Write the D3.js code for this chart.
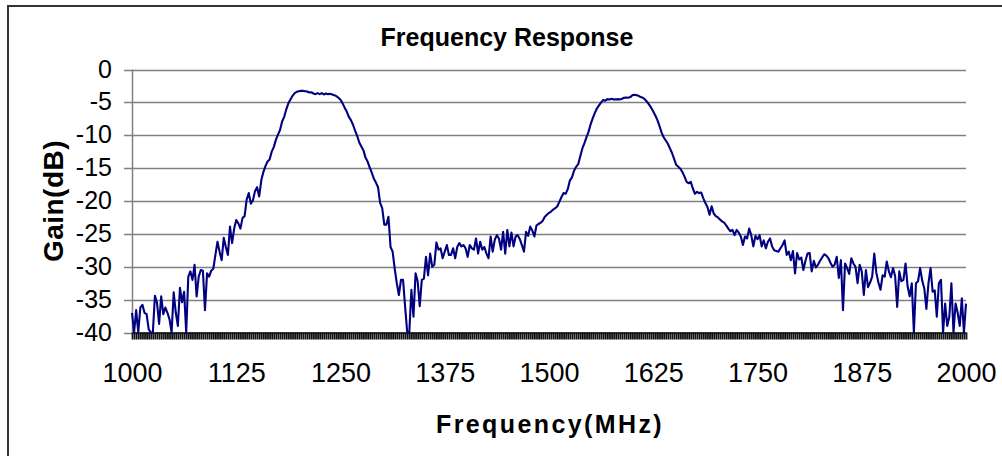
<!DOCTYPE html>
<html>
<head>
<meta charset="utf-8">
<script src="https://cdn.jsdelivr.net/npm/d3@7"></script>
<style>
  body { margin: 0; background: #fff; }
  svg { display: block; font-family: "Liberation Sans", Arial, sans-serif; }
</style>
</head>
<body>
<svg id="chart" width="1002" height="456"></svg>
<script>
// sweep: 1000 MHz to 2000 MHz, one reading every 2.5 MHz
var freqStart = 1000, freqStep = 2.5;

// gain (dB), 10 readings per row (25 MHz)
var gain = [
  -37, -40, -36.6, -40, -36.2, -35.8, -37, -37.2, -39.5, -40,
  -40, -34.4, -35.5, -38.7, -34.5, -37.2, -36.2, -37, -38, -40,
  -33.9, -37, -39, -33.2, -35.4, -33.8, -40, -31.5, -30.7, -32,
  -29.7, -34.5, -31.5, -30.5, -30.6, -36.6, -31, -31.5, -30.6, -30.3,
  -28.2, -26.2, -27.7, -29, -25.6, -27, -28.2, -23.9, -26.4, -24.2,
  -22.9, -23.4, -24.2, -22.6, -22.3, -19.8, -18.8, -20.4, -19.9, -18.5,
  -17.9, -19.3, -16.9, -15.6, -14.7, -14.0, -13.7, -12.5, -11.8, -10.7,
  -9.9, -9.2, -7.9, -7.2, -6.05, -5.15, -4.55, -4.0, -3.6, -3.4,
  -3.3, -3.25, -3.25, -3.3, -3.35, -3.5, -3.45, -3.65, -3.75, -3.6,
  -3.75, -3.6, -3.8, -3.65, -3.75, -3.7, -3.8, -3.9, -4.05, -4.3,
  -4.6, -5.15, -5.8, -6.4, -7.2, -7.7, -8.4, -9.3, -10.1, -11.1,
  -11.7, -12.3, -13.4, -14.0, -14.9, -15.7, -16.6, -17.2, -17.9, -20.3,
  -21.1, -23.6, -23.6, -22.4, -27, -27.7, -30.3, -32.5, -34.3, -32,
  -32, -36.1, -40, -40, -33.5, -37.6, -31, -32.2, -36, -32,
  -31.8, -28.5, -31.3, -28, -30, -29.7, -26.3, -27.4, -27.2, -28.7,
  -27.7, -26.7, -28.2, -28.2, -27.2, -28.7, -27, -26.4, -26.9, -26.7,
  -27.2, -28.5, -26.7, -27.2, -27.4, -25.7, -28, -26.2, -27.4, -27,
  -28, -28.7, -25.4, -27.7, -25.9, -25.2, -25.7, -27.4, -24.7, -28,
  -24.4, -26.9, -24.8, -26.9, -25.4, -25.2, -25.8, -26.7, -27.7, -24.7,
  -25.3, -23.9, -24.5, -25.4, -23.7, -23.5, -23.3, -23, -22.4, -22.1,
  -21.8, -21.6, -21.3, -21.1, -20.8, -20.1, -19.4, -18.8, -18.9, -18.2,
  -16.9, -16.4, -15.4, -14.8, -14.4, -13.2, -12, -11.2, -10.3, -9.45,
  -8.3, -7.4, -6.6, -5.9, -5.45, -5.0, -4.64, -4.74, -4.5, -4.55,
  -4.45, -4.55, -4.55, -4.5, -4.55, -4.45, -4.3, -4.25, -4.3, -4.2,
  -3.9, -3.85, -3.9, -4.0, -4.2, -4.3, -4.55, -4.9, -5.35, -5.8,
  -6.4, -7.0, -7.7, -8.6, -9.6, -10.3, -10.8, -11.3, -12, -12.7,
  -13.6, -14.5, -14.8, -15.1, -15.6, -16.3, -17.1, -17.3, -17.1, -18.1,
  -18.9, -18.6, -18.8, -18.7, -19.6, -20.3, -20.9, -22.1, -20.8, -21.9,
  -22.3, -22.5, -22.8, -23.1, -23.3, -23.7, -24.2, -24.6, -24.4, -25.2,
  -24.4, -24.8, -25.4, -26.7, -25.4, -25.7, -24.2, -25.2, -26.9, -25.3,
  -25.8, -25.2, -26.9, -26, -27.2, -26.2, -25.7, -26.9, -27.5, -27.6,
  -27.7, -27.2, -26.7, -26, -28.2, -27.7, -29, -27.6, -31, -27.9,
  -28.9, -28.6, -30.5, -29.1, -28, -27.9, -30.7, -29.1, -30.1, -29.7,
  -29.1, -28.6, -28.1, -28.3, -28.7, -29.4, -30, -29.7, -28.5, -31.7,
  -29, -36.6, -29.5, -30.2, -31.1, -28.7, -29.5, -30, -32.5, -29.7,
  -30.7, -34.3, -30.5, -33.1, -32.4, -31.5, -28, -30.9, -32.4, -33.5,
  -31.3, -31.5, -29.2, -30.7, -31.6, -30.2, -31.4, -36.1, -30.7, -32.2,
  -32, -29.5, -33, -34.5, -32.5, -40, -32.5, -32.2, -30.2, -32.1,
  -33.3, -36.4, -32.5, -30.2, -33.8, -33.6, -37.6, -32.5, -32, -40,
  -35.6, -39, -37.6, -32.5, -40, -35.6, -37, -39, -34.8, -40,
  -35.6
];

var xLabels = [1000, 1125, 1250, 1375, 1500, 1625, 1750, 1875, 2000];
var yTicks = [0, -5, -10, -15, -20, -25, -30, -35, -40];

var freqs = gain.map(function(g, i) { return freqStart + i * freqStep; });

var plotL = 132, plotR = 966, plotT = 69.5, plotB = 332.5;

var svg = d3.select('#chart');

var x = d3.scaleLinear().domain([1000, 2000]).range([plotL, plotR]);
var y = d3.scaleLinear().domain([-40, 0]).range([plotB, plotT]);

// outer frame
svg.append('rect')
    .attr('x', 8).attr('y', 6)
    .attr('width', 1010).attr('height', 470)
    .attr('fill', 'none')
    .attr('stroke', '#333')
    .attr('stroke-width', 2);

// gridlines, with the little tick stubs left of the axis
svg.append('g').selectAll('line')
    .data(yTicks)
    .enter().append('line')
    .attr('x1', plotL - 8).attr('x2', plotR)
    .attr('y1', function(d) { return Math.round(y(d)) + 0.5; })
    .attr('y2', function(d) { return Math.round(y(d)) + 0.5; })
    .attr('stroke', '#808080')
    .attr('stroke-width', 1.5);

// y axis line
svg.append('line')
    .attr('x1', plotL + 0.5).attr('x2', plotL + 0.5)
    .attr('y1', plotT).attr('y2', plotB)
    .attr('stroke', '#808080')
    .attr('stroke-width', 1.5);

// y labels
var yAxis = svg.append('g')
    .attr('transform', 'translate(' + (plotL - 20) + ',0)')
    .call(d3.axisLeft(y).tickValues(yTicks).tickSize(0).tickPadding(0)
        .tickFormat(function(d) { return String(d); }));
yAxis.select('.domain').remove();
yAxis.selectAll('text')
    .attr('font-family', '"Liberation Sans", Arial, sans-serif')
    .attr('font-size', 25)
    .attr('fill', '#000')
    .attr('dy', '0.3em');

// category ticks, one per reading
var tickAxis = svg.append('g')
    .attr('transform', 'translate(0,' + plotB + ')')
    .call(d3.axisBottom(x).tickValues(freqs).tickSize(7).tickSizeOuter(0).tickFormat(''));
tickAxis.select('.domain').attr('stroke', '#222').attr('stroke-width', 1.5);
tickAxis.selectAll('.tick line').attr('stroke', '#111').attr('stroke-width', 1.8);

// x labels
var xAxis = svg.append('g')
    .attr('transform', 'translate(0,' + plotB + ')')
    .call(d3.axisBottom(x).tickValues(xLabels).tickSize(0).tickPadding(0)
        .tickFormat(function(d) { return String(d); }));
xAxis.select('.domain').remove();
xAxis.selectAll('text')
    .attr('font-family', '"Liberation Sans", Arial, sans-serif')
    .attr('font-size', 27)
    .attr('fill', '#000')
    .attr('dy', 0)
    .attr('y', 49.5);

// response trace
var line = d3.line()
    .x(function(d, i) { return x(freqs[i]); })
    .y(function(d) { return y(d); });

svg.append('path')
    .datum(gain)
    .attr('d', line)
    .attr('fill', 'none')
    .attr('stroke', '#000080')
    .attr('stroke-width', 2.1)
    .attr('stroke-linejoin', 'round');

// titles
svg.append('text')
    .attr('x', 507).attr('y', 46)
    .attr('text-anchor', 'middle')
    .attr('font-size', 25)
    .attr('font-weight', 'bold')
    .text('Frequency Response');

svg.append('text')
    .attr('x', 550).attr('y', 433)
    .attr('text-anchor', 'middle')
    .attr('font-size', 25)
    .attr('font-weight', 'bold')
    .attr('letter-spacing', 2.4)
    .text('Frequency(MHz)');

svg.append('text')
    .attr('transform', 'translate(63,201) rotate(-90)')
    .attr('text-anchor', 'middle')
    .attr('font-size', 28)
    .attr('font-weight', 'bold')
    .attr('letter-spacing', 0.5)
    .text('Gain(dB)');
</script>
</body>
</html>
